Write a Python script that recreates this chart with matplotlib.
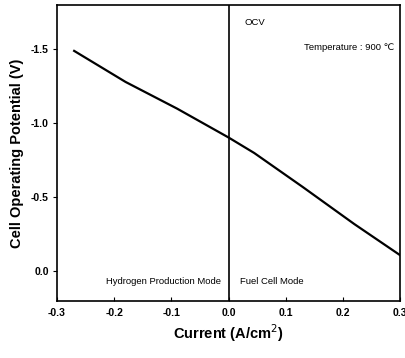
import matplotlib
matplotlib.use("Agg")
import matplotlib.pyplot as plt

# values
current = [-0.27, -0.18, -0.09, 0.0, 0.045, 0.13, 0.22, 0.30]
potential = [-1.49, -1.28, -1.10, -0.905, -0.80, -0.57, -0.32, -0.11]
xticks = [-0.3, -0.2, -0.1, 0.0, 0.1, 0.2, 0.3]
yticks = [-1.5, -1.0, -0.5, 0.0]

plt.rcParams['font.family'] = ['Liberation Sans Narrow', 'Liberation Sans', 'DejaVu Sans']

fig = plt.figure(figsize=(4.05, 3.58), dpi=100)
ax = fig.add_axes([57 / 405, 1 - 301 / 358, 343 / 405, 296 / 358])

ax.plot(current, potential, color='black', lw=1.6)
ax.axvline(0.0, color='black', lw=1.2)

ax.set_xlim(-0.3, 0.3)
ax.set_ylim(0.2, -1.8)
ax.set_xticks(xticks)
ax.set_xticklabels(['-0.3', '-0.2', '-0.1', '0.0', '0.1', '0.2', '0.3'], fontweight='bold')
ax.set_yticks(yticks)
ax.set_yticklabels(['-1.5', '-1.0', '-0.5', '0.0'], fontweight='bold')
ax.tick_params(axis='x', direction='in', length=3, labelsize=7.5, pad=5)
ax.tick_params(axis='y', direction='out', length=3, labelsize=7.5, pad=3)
for s in ax.spines.values():
    s.set_linewidth(1.2)

ax.set_xlabel('Current (A/cm$^2$)', fontsize=10.5, fontweight='bold',
              family=['Liberation Sans', 'DejaVu Sans'], labelpad=3)
ax.set_ylabel('Cell Operating Potential (V)', fontsize=10.5, fontweight='bold',
              family=['Liberation Sans', 'DejaVu Sans'], labelpad=5)

ax.text(0.028, -1.68, 'OCV', fontsize=6.8, va='center', ha='left')
ax.text(0.29, -1.51, 'Temperature : 900 \u2103', fontsize=6.8, va='center', ha='right')
ax.text(-0.013, 0.07, 'Hydrogen Production Mode', fontsize=6.8, va='center', ha='right')
ax.text(0.02, 0.07, 'Fuel Cell Mode', fontsize=6.8, va='center', ha='left')

fig.savefig('out.png', dpi=100)
